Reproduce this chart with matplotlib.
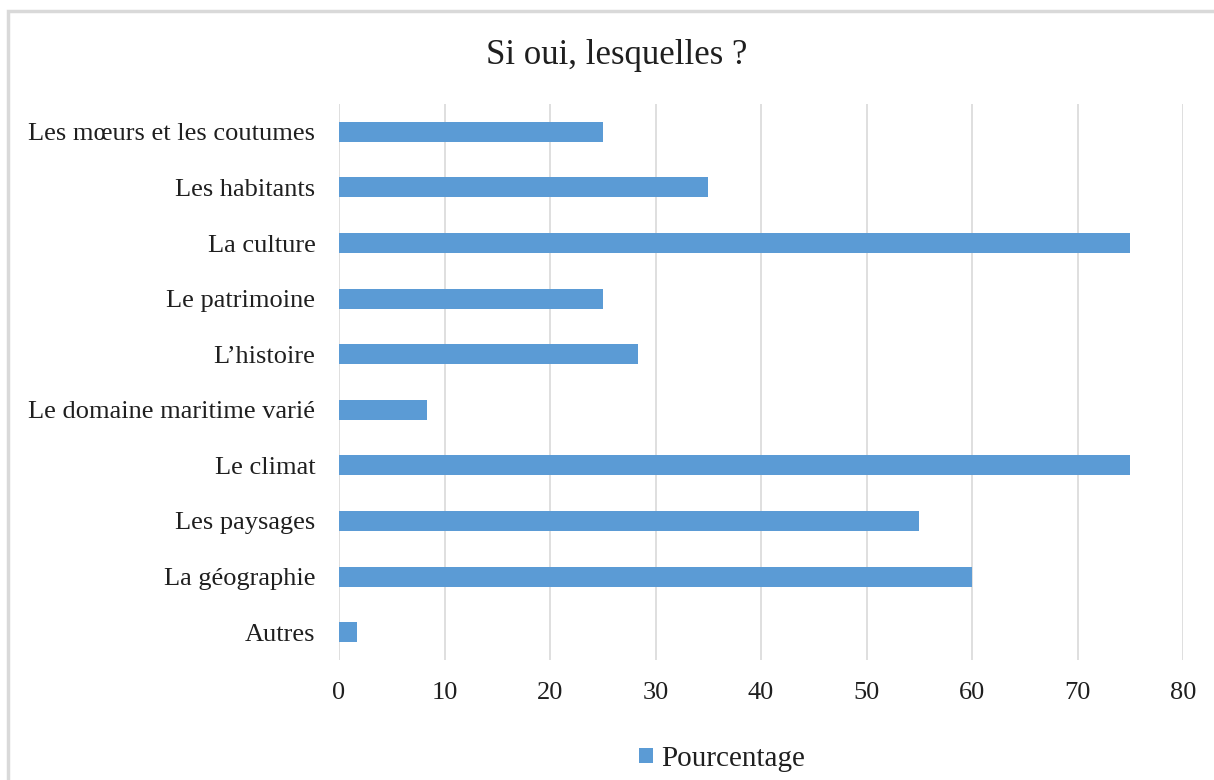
import matplotlib.pyplot as plt
from matplotlib.patches import Rectangle

plt.rcParams['font.family'] = ['Liberation Serif', 'DejaVu Serif']

# Réponses, de haut en bas
categories = ['Les mœurs et les coutumes', 'Les habitants', 'La culture',
              'Le patrimoine', 'L\u2019histoire', 'Le domaine maritime varié',
              'Le climat', 'Les paysages', 'La géographie', 'Autres']
pourcentage = [25, 35, 75, 25, 28.3, 8.3, 75, 55, 60, 1.7]
xticks = [0, 10, 20, 30, 40, 50, 60, 70, 80]

BLUE = '#5B9BD5'
GRID = '#D9D9D9'
TEXT = '#1f1f1f'

fig = plt.figure(figsize=(12.14, 7.8), dpi=100)
ax = fig.add_axes([339 / 1214, 1 - 660 / 780, (1183 - 339) / 1214, (660 - 104) / 780])

ypos = list(range(len(categories)))
ax.barh(ypos, pourcentage, height=0.36, color=BLUE, label='Pourcentage', zorder=3)

ax.set_ylim(len(categories) - 0.5, -0.5)
ax.set_xlim(0, 80)
ax.set_yticks(ypos)
ax.set_yticklabels(categories)
ax.set_xticks(xticks)
ax.tick_params(axis='both', length=0, labelsize=19, colors=TEXT)
ax.tick_params(axis='y', pad=17)
ax.tick_params(axis='x', pad=16)
ax.grid(axis='x', color=GRID, linewidth=1.2, zorder=0)
for s in ax.spines.values():
    s.set_visible(False)

fig.text(0.508, 1 - 55 / 780, 'Si oui, lesquelles ?', ha='center', va='center',
         fontsize=25, color=TEXT)

fig.legend(loc='center', bbox_to_anchor=(0.595, 1 - 759 / 780), frameon=False,
           fontsize=21, handlelength=0.45, handleheight=0.45, handletextpad=0.3,
           labelcolor=TEXT)

# cadre du graphique
fig.patches.append(Rectangle((8 / 1214, -0.1), 1.2, 1 - 11 / 780 + 0.1,
                             transform=fig.transFigure, fill=False,
                             edgecolor='#D9D9D9', linewidth=2.5))

fig.savefig('out.png', dpi=100)
